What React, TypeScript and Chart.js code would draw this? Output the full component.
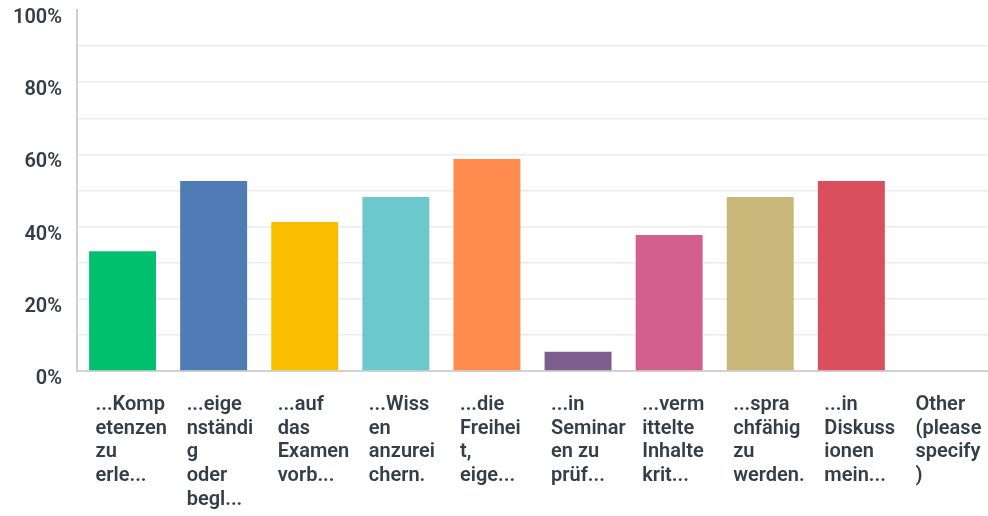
import React, { useEffect, useRef } from "react";
import { Chart, registerables } from "chart.js";

Chart.register(...registerables);

const categories: string[][] = [
  ["...Komp", "etenzen", "zu", "erle..."],
  ["...eige", "nständi", "g", "oder", "begl..."],
  ["...auf", "das", "Examen", "vorb..."],
  ["...Wiss", "en", "anzurei", "chern."],
  ["...die", "Freihei", "t,", "eige..."],
  ["...in", "Seminar", "en zu", "prüf..."],
  ["...verm", "ittelte", "Inhalte", "krit..."],
  ["...spra", "chfähig", "zu", "werden."],
  ["...in", "Diskuss", "ionen", "mein..."],
  ["Other", "(please", "specify", ")"],
];

const values: number[] = [33.2, 52.6, 41.3, 48.2, 58.7, 5.3, 37.7, 48.2, 52.6, 0];

const barColors: string[] = [
  "#00bf6f",
  "#507cb6",
  "#f9be00",
  "#6bc8cd",
  "#ff8b4f",
  "#7d5e8e",
  "#d35f8f",
  "#c9b679",
  "#db4e5d",
  "#999999",
];

const yMin = 0;
const yMax = 100;
const yStep = 10;

const FONT = "Roboto, 'Open Sans', Arial, sans-serif";
const TEXT_COLOR = "#333e48";

export default function App() {
  const canvasRef = useRef<HTMLCanvasElement | null>(null);

  useEffect(() => {
    if (!canvasRef.current) return;
    const chart = new Chart(canvasRef.current, {
      type: "bar",
      data: {
        labels: categories,
        datasets: [
          {
            data: values,
            backgroundColor: barColors,
            borderWidth: 0,
            categoryPercentage: 1,
            barPercentage: 0.735,
          },
        ],
      },
      options: {
        responsive: false,
        animation: false,
        layout: { padding: { top: 10, left: 0, right: 0, bottom: 0 } },
        plugins: {
          legend: { display: false },
          tooltip: { enabled: false },
        },
        scales: {
          x: {
            grid: { display: false, drawTicks: false },
            border: { display: true, color: "#d2d2d2", width: 2 },
            ticks: {
              autoSkip: false,
              maxRotation: 0,
              minRotation: 0,
              align: "start",
              labelOffset: -27,
              padding: 22,
              color: TEXT_COLOR,
              font: { family: FONT, size: 20, weight: 600, lineHeight: 1.185 },
            },
            afterFit: (s: any) => {
              s.height = 145;
              s.paddingLeft = 0;
              s.paddingRight = 0;
            },
          },
          y: {
            min: yMin,
            max: yMax,
            grid: {
              drawTicks: false,
              lineWidth: 1.5,
              color: (ctx: any) =>
                ctx.tick && (ctx.tick.value === 100 || ctx.tick.value === 0)
                  ? "rgba(0,0,0,0)"
                  : "#ececec",
            },
            border: { display: true, color: "#cfcfcf", width: 2 },
            ticks: {
              stepSize: yStep,
              padding: 15,
              labelOffset: 8,
              color: TEXT_COLOR,
              font: { family: FONT, size: 20, weight: 600 },
              callback: (v: any) => (Number(v) % 20 === 0 ? `${v}%` : ""),
            },
            afterFit: (s: any) => {
              s.width = 77;
              s.paddingTop = 0;
              s.paddingBottom = 0;
            },
          },
        },
      },
    });
    return () => chart.destroy();
  }, []);

  return (
    <div style={{ position: "absolute", left: 0, top: 0, width: 988, height: 516, background: "#fff" }}>
      <canvas ref={canvasRef} width={988} height={516} style={{ display: "block" }} />
    </div>
  );
}
